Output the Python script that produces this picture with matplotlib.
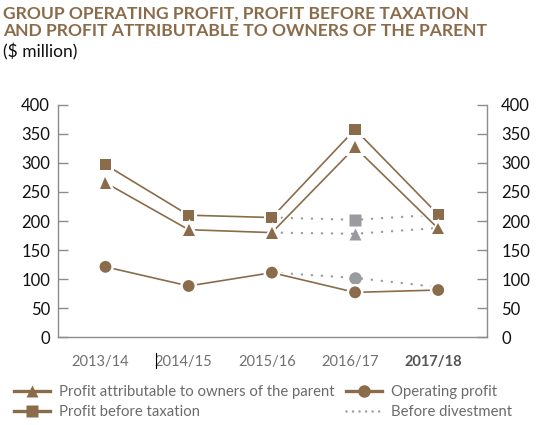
import matplotlib
matplotlib.use("Agg")
import matplotlib.pyplot as plt
import matplotlib.patheffects as pe
from matplotlib.lines import Line2D

plt.rcParams['font.family'] = ['Lato', 'DejaVu Sans']

# data ($ million)
years = ['2013/14', '2014/15', '2015/16', '2016/17', '2017/18']
profit_before_tax = [297, 210, 206, 358, 211]
profit_owners = [266, 185, 180, 327, 187]
operating_profit = [121, 88, 111, 77, 81]

# "before divestment" series, from 2015/16 onwards
div_years = ['2015/16', '2016/17', '2017/18']
pbt_before_div = [206, 202, 211]
owners_before_div = [180, 178, 188]
op_before_div = [111, 102, 86]

brown = '#8b6c4a'
grey = '#9a9b9e'
axis_grey = '#8c8c8c'

fig = plt.figure(figsize=(5.45, 4.25), dpi=100)
ax = fig.add_axes([0.107, 0.207, 0.787, 0.546])

x = list(range(len(years)))
xd = [years.index(y) for y in div_years]

halo = [pe.Stroke(linewidth=3.6, foreground='white'), pe.Normal()]
dot_kw = dict(color=grey, lw=1.8, linestyle=(0, (0.01, 4.0)),
              dash_capstyle='round', zorder=2)

# before divestment (dotted, grey markers only in the middle)
ax.plot(xd, pbt_before_div, marker='s', ms=8, markevery=[1], mec='none', **dot_kw)
ax.plot(xd, owners_before_div, marker='^', ms=8.5, markevery=[1], mec='none', **dot_kw)
ax.plot(xd, op_before_div, marker='o', ms=9, markevery=[1], mec='none', **dot_kw)

# reported series
ax.plot(x, profit_before_tax, color=brown, lw=1.2, marker='s', ms=8,
        mec='none', zorder=4, path_effects=halo)
ax.plot(x, profit_owners, color=brown, lw=1.2, marker='^', ms=8.5,
        mec='none', zorder=4, path_effects=halo)
ax.plot(x, operating_profit, color=brown, lw=1.2, marker='o', ms=8.5,
        mec='none', zorder=4, path_effects=halo)

ax.set_xlim(-0.567, 4.589)
ax.set_ylim(0, 400)
ax.set_yticks(range(0, 401, 50))

ax.spines['top'].set_visible(False)
for s in ['left', 'bottom', 'right']:
    ax.spines[s].set_color(axis_grey)
    ax.spines[s].set_linewidth(1)

ax.tick_params(axis='y', direction='in', length=7, width=1, color=axis_grey,
               labelsize=12, labelcolor='#111111', pad=6)
ax.set_xticks([i - 0.06 for i in x])
ax.set_xticklabels(years)
ax.tick_params(axis='x', length=0, labelsize=10.5, labelcolor='#707070', pad=13)
lbl = ax.get_xticklabels()[-1]
lbl.set_fontweight('bold')
lbl.set_color('#555555')

ax2 = ax.twinx()
ax2.set_ylim(0, 400)
ax2.set_yticks(range(0, 401, 50))
for s in ['top', 'left', 'bottom', 'right']:
    ax2.spines[s].set_visible(False)
ax2.tick_params(axis='y', direction='in', length=7, width=1, color=axis_grey,
                labelsize=12, labelcolor='#111111', pad=10)

# title
fig.text(0.006, 0.988, 'GROUP OPERATING PROFIT, PROFIT BEFORE TAXATION\n'
         'AND PROFIT ATTRIBUTABLE TO OWNERS OF THE PARENT',
         ha='left', va='top', fontsize=12.6, fontweight='bold', color=brown,
         linespacing=1.18)
fig.text(0.006, 0.898, '($ million)', ha='left', va='top', fontsize=12.5,
         color='#111111')

# stray cursor mark in the source image
fig.add_artist(Line2D([156 / 545, 156 / 545], [1 - 353 / 425, 1 - 368 / 425],
                      color='black', lw=0.8))

# legend
h_tri = Line2D([], [], color=brown, lw=2.4, marker='^', ms=9, mec='none')
h_sq = Line2D([], [], color=brown, lw=2.4, marker='s', ms=9, mec='none')
h_circ = Line2D([], [], color=brown, lw=2.4, marker='o', ms=9, mec='none')
h_dot = Line2D([], [], color=grey, lw=1.8, linestyle=(0, (0.01, 2.6)),
               dash_capstyle='round')
leg_kw = dict(frameon=False, fontsize=10.7, labelcolor='#6b6b6b',
              handlelength=2.4, handletextpad=0.6, labelspacing=0.4,
              borderaxespad=0, borderpad=0, loc='upper left')
fig.legend([h_tri, h_sq], ['Profit attributable to owners of the parent',
                           'Profit before taxation'],
           bbox_to_anchor=(14 / 545, 1 - 385 / 425), **leg_kw)
fig.legend([h_circ, h_dot], ['Operating profit', 'Before divestment'],
           bbox_to_anchor=(346 / 545, 1 - 385 / 425), **leg_kw)

fig.savefig('out.png', dpi=100)
